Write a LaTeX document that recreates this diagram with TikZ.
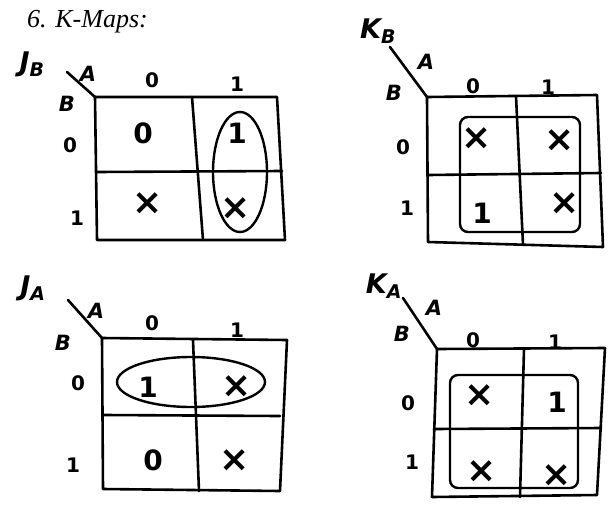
\documentclass[tikz,border=0pt]{standalone}
\usepackage{fontspec}
\setmainfont{Liberation Serif}
\newfontfamily\handfont{DejaVu Sans}
\begin{document}
\begin{tikzpicture}[x=1pt,y=-1pt,
  ink/.style={line width=2.6pt,line cap=round,line join=round},
  cellv/.style={font=\handfont\bfseries\fontsize{28}{28}\selectfont,inner sep=0pt},
  cellx/.style={font=\handfont\bfseries\fontsize{36}{36}\selectfont,inner sep=0pt},
  hdr/.style={font=\handfont\bfseries\fontsize{20}{20}\selectfont,inner sep=0pt},
  varlbl/.style={font=\handfont\bfseries\fontsize{21}{21}\selectfont\itshape,inner sep=0pt},
  mapname/.style={font=\handfont\bfseries\fontsize{27}{27}\selectfont\itshape,inner sep=0pt},
  loopline/.style={line width=2.4pt}]
\useasboundingbox (0,0) rectangle (614,515);
\fill[white] (0,0) rectangle (614,515);

\node[anchor=west,font=\fontsize{26}{26}\selectfont\itshape,inner sep=0pt] (title) at (27,22) {6. K-Maps:};

% ---------- Map 1: J_B ----------
\coordinate (m1tl) at (95,97);
\coordinate (m1tr) at (277,97);
\coordinate (m1br) at (285,240);
\coordinate (m1bl) at (97,240);
\draw[ink] (m1tl) -- (m1tr) -- (m1br) -- (m1bl) -- cycle;
\draw[ink] (96,172) -- (282,171);
\draw[ink] (192,97) -- (203,240);
\coordinate (m1d) at (67,72);
\draw[ink] (m1tl) -- (m1d);
\node[mapname] (m1n) at (32,64) {J\textsubscript{B}};
\node[varlbl] (m1A) at (88,74) {A};
\node[varlbl] (m1B) at (67,104) {B};
\node[hdr] (m1c0) at (152,80) {0};
\node[hdr] (m1c1) at (237,84) {1};
\node[hdr] (m1r0) at (70,145) {0};
\node[hdr] (m1r1) at (77,218) {1};
\node[cellv] (m1a) at (143,133) {0};
\node[cellv] (m1b) at (237,133) {1};
\node[cellx] (m1c) at (148,204) {×};
\node[cellx] (m1d2) at (236,209) {×};
\draw[loopline] (240,172) ellipse [x radius=27,y radius=60];

% ---------- Map 2: K_B ----------
\coordinate (m2tl) at (427,97);
\coordinate (m2tr) at (597,95);
\coordinate (m2br) at (603,247);
\coordinate (m2bl) at (428,242);
\draw[ink] (m2tl) -- (m2tr) -- (m2br) -- (m2bl) -- cycle;
\draw[ink] (428,175) -- (601,173);
\draw[ink] (516,96) -- (523,245);
\coordinate (m2d) at (390,47);
\draw[ink] (m2tl) -- (m2d);
\node[mapname] (m2n) at (378,31) {K\textsubscript{B}};
\node[varlbl] (m2A) at (426,62) {A};
\node[varlbl] (m2B) at (394,93) {B};
\node[hdr] (m2c0) at (473,86) {0};
\node[hdr] (m2c1) at (548,87) {1};
\node[hdr] (m2r0) at (403,147) {0};
\node[hdr] (m2r1) at (407,208) {1};
\node[cellx] (m2a) at (477,139) {×};
\node[cellx] (m2b) at (560,141) {×};
\node[cellv] (m2c) at (482,213) {1};
\node[cellx] (m2d2) at (565,204) {×};
\draw[loopline,rounded corners=8pt] (460,117) rectangle (580,232);

% ---------- Map 3: J_A ----------
\coordinate (m3tl) at (102,338);
\coordinate (m3tr) at (287,340);
\coordinate (m3br) at (280,491);
\coordinate (m3bl) at (103,489);
\draw[ink] (m3tl) -- (m3tr) -- (m3br) -- (m3bl) -- cycle;
\draw[ink] (104,415) -- (280,416);
\draw[ink] (193,340) -- (199,491);
\coordinate (m3d) at (68,300);
\draw[ink] (m3tl) -- (m3d);
\node[mapname] (m3n) at (33,288) {J\textsubscript{A}};
\node[varlbl] (m3A) at (96,311) {A};
\node[varlbl] (m3B) at (63,343) {B};
\node[hdr] (m3c0) at (152,323) {0};
\node[hdr] (m3c1) at (237,330) {1};
\node[hdr] (m3r0) at (78,383) {0};
\node[hdr] (m3r1) at (73,465) {1};
\node[cellv] (m3a) at (148,387) {1};
\node[cellx] (m3b) at (237,387) {×};
\node[cellv] (m3c) at (153,460) {0};
\node[cellx] (m3d2) at (235,461) {×};
\draw[loopline] (191,382) ellipse [x radius=74,y radius=25];

% ---------- Map 4: K_A ----------
\coordinate (m4tl) at (437,349);
\coordinate (m4tr) at (605,348);
\coordinate (m4br) at (597,495);
\coordinate (m4bl) at (432,497);
\draw[ink] (m4tl) -- (m4tr) -- (m4br) -- (m4bl) -- cycle;
\draw[ink] (434,429) -- (601,428);
\draw[ink] (524,349) -- (520,497);
\coordinate (m4d) at (403,298);
\draw[ink] (m4tl) -- (m4d);
\node[mapname] (m4n) at (384,286) {K\textsubscript{A}};
\node[varlbl] (m4A) at (434,308) {A};
\node[varlbl] (m4B) at (402,334) {B};
\node[hdr] (m4c0) at (473,340) {0};
\node[hdr] (m4c1) at (555,342) {1};
\node[hdr] (m4r0) at (408,403) {0};
\node[hdr] (m4r1) at (412,462) {1};
\node[cellx] (m4a) at (480,396) {×};
\node[cellv] (m4b) at (557,402) {1};
\node[cellx] (m4c) at (482,472) {×};
\node[cellx] (m4d2) at (557,476) {×};
\draw[loopline,rounded corners=8pt] (450,375) rectangle (578,488);
\end{tikzpicture}
\end{document}
